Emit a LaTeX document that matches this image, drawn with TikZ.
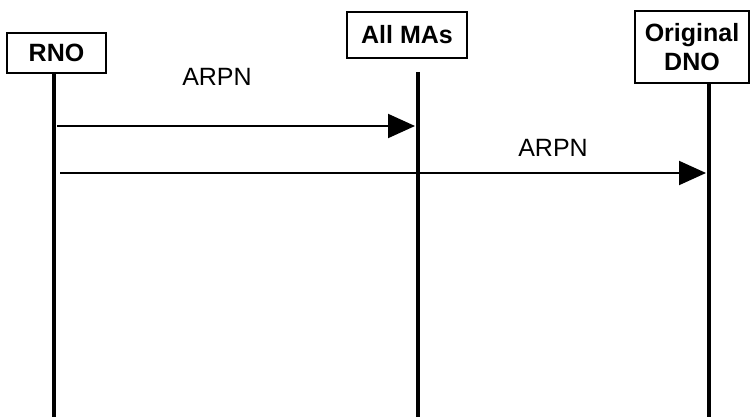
\documentclass[tikz,border=0pt]{standalone}
\usepackage{fontspec}
\setmainfont{Liberation Sans}
\usetikzlibrary{arrows.meta}
\begin{document}
\begin{tikzpicture}[x=1pt,y=-1pt,
  actor/.style={draw, line width=1.3pt, font=\fontsize{25}{29}\selectfont\bfseries,
    align=center, inner sep=0pt},
  lifeline/.style={line width=4.5pt},
  msg/.style={line width=2pt, -{Triangle[length=27pt,width=24pt]}},
  lbl/.style={font=\fontsize{25}{29}\selectfont, inner sep=0pt}]
\useasboundingbox (0,0) rectangle (750,417);

% participants
\node[actor, minimum width=99pt, minimum height=40pt] (rno) at (56.5,53) {RNO};
\node[actor, minimum width=120pt, minimum height=46pt] (ma) at (407,35) {All MAs};
\node[actor, minimum width=114pt, minimum height=72pt] (dno) at (692,47) {Original\\DNO};

% lifelines
\coordinate (rnotop) at (54,73);
\coordinate (rnobot) at (54,417);
\coordinate (matop) at (418,72);
\coordinate (mabot) at (418,417);
\coordinate (dnotop) at (709,83);
\coordinate (dnobot) at (709,417);
\draw[lifeline] (rnotop) -- (rnobot);
\draw[lifeline] (matop) -- (mabot);
\draw[lifeline] (dnotop) -- (dnobot);

% messages
\coordinate (m1s) at (57,126);
\coordinate (m1e) at (415,126);
\coordinate (m2s) at (60,173);
\coordinate (m2e) at (706,173);
\draw[msg] (m1s) -- (m1e);
\draw[msg] (m2s) -- (m2e);

\node[lbl] (l1) at (217,77) {ARPN};
\node[lbl] (l2) at (553,148) {ARPN};
\end{tikzpicture}
\end{document}
